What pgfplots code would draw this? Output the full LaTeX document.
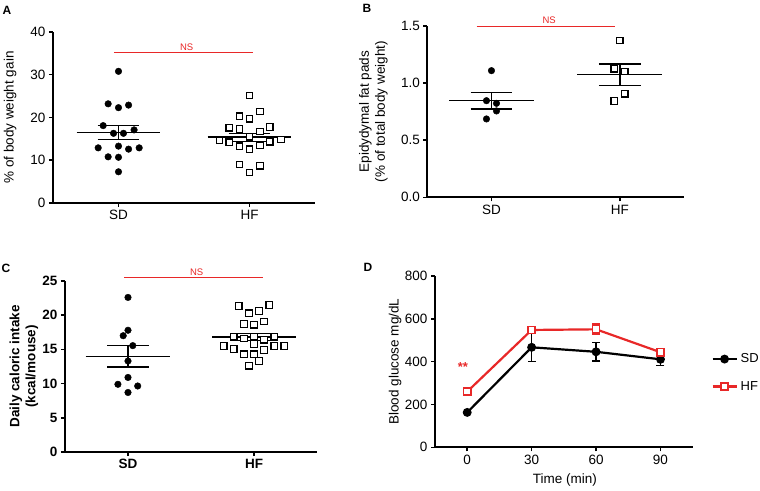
\documentclass[border=0pt]{standalone}
\usepackage{pgfplots}
\pgfplotsset{compat=1.18}
\usepackage{fontspec}
\setmainfont{Liberation Sans}
\definecolor{nsred}{RGB}{232,40,40}
\newcommand{\fs}{\fontsize{13.5}{16}\selectfont}
\begin{document}
\begin{tikzpicture}
\useasboundingbox (0pt,0pt) rectangle (760pt,490pt);
\pgfplotsset{
  base/.style={
    scale only axis, anchor=south west,
    axis lines=left, axis line style={-, line width=1.8pt},
    tick align=outside, major tick length=4pt,
    tick style={line width=1.5pt, black},
    ticklabel style={font=\fs},
    label style={font=\fs},
    /pgf/number format/assume math mode=true,
    clip=false,
  },
  cat/.style={xmin=-0.5, xmax=1.5, xtick={0,1}, xticklabels={SD,HF}},
  dots/.style={only marks, mark=*, mark size=3.3pt, black},
  sqs/.style={only marks, mark=square*, mark size=3.2pt, black, mark options={fill=white, line width=1.2pt}},
  ms/.style={black, line width=1.6pt, no marks},
}

% ---------------- Panel A ----------------
\begin{axis}[base, cat, at={(53pt,287pt)}, width=262pt, height=171pt,
  ymin=0, ymax=40, ytick={0,10,20,30,40},
  ylabel={\% of body weight gain},
  ylabel style={at={(axis description cs:-0.164,0.5)}, anchor=center}]
\addplot[dots] coordinates {(0,30.8) (-0.079,23.2) (0,22.3) (0.077,22.9) (-0.117,18.1) (-0.038,16.3) (0.038,16.3) (0.119,17.1) (-0.155,12.9) (0,13.3) (0.077,12.6) (0.158,12.9) (-0.079,10.8) (0,10.7) (0,7.3)};
\addplot[sqs] coordinates {(1,25.1) (0.923,20.3) (1,19.7) (1.08,21.4) (0.845,17.6) (0.923,17.3) (1.08,16.7) (1.155,17.8) (1,15.5) (0.77,14.7) (0.845,14.2) (0.923,13.3) (1,12.6) (1.08,13.5) (1.155,14.3) (1.24,14.9) (0.923,9.0) (1,7.1) (1.08,8.7)};
\addplot[ms] coordinates {(-0.32,16.45) (0.32,16.45)};
\addplot[ms] coordinates {(-0.16,18.1) (0.16,18.1)};
\addplot[ms] coordinates {(-0.16,14.9) (0.16,14.9)};
\addplot[ms] coordinates {(0,14.9) (0,18.1)};
\addplot[ms] coordinates {(0.68,15.4) (1.32,15.4)};
\addplot[ms] coordinates {(0.84,16.3) (1.16,16.3)};
\addplot[ms] coordinates {(0.84,14.4) (1.16,14.4)};
\addplot[ms] coordinates {(1,14.4) (1,16.3)};
\addplot[nsred, line width=0.9pt, no marks] coordinates {(-0.035,35.2) (1.025,35.2)};
\node[nsred, font=\fontsize{9.5}{11}\selectfont, anchor=south, inner sep=1.5pt] at (axis cs:0.52,35.2) {NS};
\end{axis}

% ---------------- Panel B ----------------
\begin{axis}[base, cat, at={(427.3pt,292.7pt)}, width=256.7pt, height=171.3pt,
  ymin=0, ymax=1.5, ytick={0,0.5,1,1.5},
  yticklabel style={/pgf/number format/.cd, fixed, fixed zerofill, precision=1},
  ylabel={Epidydymal fat pads\\(\% of total body weight)},
  ylabel style={align=center, at={(axis description cs:-0.21,0.5)}, anchor=center}]
\addplot[dots] coordinates {(0,1.109) (-0.039,0.846) (0.039,0.823) (0.039,0.756) (-0.039,0.686)};
\addplot[sqs] coordinates {(1,1.372) (0.956,1.126) (1.039,1.103) (1.039,0.907) (0.956,0.843)};
\addplot[ms] coordinates {(-0.33,0.846) (0.33,0.846)};
\addplot[ms] coordinates {(-0.163,0.916) (0.163,0.916)};
\addplot[ms] coordinates {(-0.163,0.773) (0.163,0.773)};
\addplot[ms] coordinates {(0,0.773) (0,0.916)};
\addplot[ms] coordinates {(0.67,1.074) (1.33,1.074)};
\addplot[ms] coordinates {(0.837,1.167) (1.163,1.167)};
\addplot[ms] coordinates {(0.837,0.978) (1.163,0.978)};
\addplot[ms] coordinates {(1,0.978) (1,1.167)};
\addplot[nsred, line width=0.9pt, no marks] coordinates {(-0.115,1.5) (0.96,1.5)};
\node[nsred, font=\fontsize{9.5}{11}\selectfont, anchor=south, inner sep=2pt] at (axis cs:0.45,1.5) {NS};
\end{axis}

% ---------------- Panel C ----------------
\begin{axis}[base, cat, at={(65pt,38pt)}, width=252pt, height=171pt,
  ymin=0, ymax=25, ytick={0,5,10,15,20,25},
  ticklabel style={font=\fs\bfseries},
  ylabel={Daily caloric intake\\(kcal/mouse)},
  ylabel style={font=\fs\bfseries, align=center, at={(axis description cs:-0.163,0.5)}, anchor=center}]
\addplot[dots] coordinates {(0,22.6) (0,17.8) (-0.038,17.0) (0.038,15.55) (0,13.3) (0,10.9) (-0.08,9.9) (0.077,9.65) (0,8.7)};
\addplot[sqs] coordinates {(0.88,21.35) (0.96,20.3) (1.04,20.6) (1.12,21.5) (0.92,18.7) (1,18.6) (1.08,19.05) (0.84,16.85) (0.92,16.6) (1,16.85) (1.08,16.4) (1.16,16.85) (0.76,15.5) (0.84,15.06) (1,15.8) (1.08,14.9) (1.16,15.5) (1.24,15.5) (0.92,14.3) (1,14.3) (0.96,12.6) (1.04,13.3)};
\addplot[ms] coordinates {(-0.337,13.99) (0.337,13.99)};
\addplot[ms] coordinates {(-0.163,15.55) (0.163,15.55)};
\addplot[ms] coordinates {(-0.163,12.43) (0.163,12.43)};
\addplot[ms] coordinates {(0,12.43) (0,15.55)};
\addplot[ms] coordinates {(0.67,16.8) (1.33,16.8)};
\addplot[ms] coordinates {(0.837,17.35) (1.163,17.35)};
\addplot[ms] coordinates {(0.837,16.3) (1.163,16.3)};
\addplot[ms] coordinates {(1,16.3) (1,17.35)};
\addplot[nsred, line width=0.9pt, no marks] coordinates {(-0.03,25.5) (1.07,25.5)};
\node[nsred, font=\fontsize{9.5}{11}\selectfont, anchor=south, inner sep=2pt] at (axis cs:0.545,25.5) {NS};
\end{axis}

% ---------------- Panel D ----------------
\begin{axis}[base, at={(435pt,42.7pt)}, width=257.7pt, height=171.3pt,
  xmin=-15, xmax=105, xtick={0,30,60,90},
  ymin=0, ymax=800, ytick={0,200,400,600,800},
  xlabel={Time (min)},
  xlabel style={at={(axis description cs:0.504,-0.19)}, anchor=center},
  ylabel={Blood glucose mg/dL},
  ylabel style={at={(axis description cs:-0.155,0.5)}, anchor=center},
  legend style={at={(axis description cs:1.072,0.435)}, anchor=west, draw=none, fill=none,
    font=\fontsize{13}{15}\selectfont, row sep=15pt, inner sep=0pt,
    nodes={inner sep=1pt},
    /tikz/every odd column/.append style={column sep=2pt}},
  legend cell align=left,
  legend image code/.code={\draw[mark repeat=2, mark phase=2, #1] plot coordinates {(0pt,0pt) (12pt,0pt) (24pt,0pt)};}]
\addplot[black, line width=2.2pt, mark=*, mark size=3.3pt,
  error bars/.cd, y dir=both, y explicit,
  error bar style={line width=1.5pt, black},
  error mark options={rotate=90, mark size=4pt, line width=1.5pt, black}]
  coordinates {(0,163) +- (0,5) (30,467) +- (0,67) (60,446) +- (0,44) (90,411) +- (0,28)};
\addlegendentry{SD}
\addplot[nsred, line width=2.2pt, mark=square*, mark size=3.6pt, mark options={fill=white, line width=1.5pt},
  error bars/.cd, y dir=both, y explicit,
  error bar style={line width=1.5pt, nsred},
  error mark options={rotate=90, mark size=4pt, line width=1.5pt, nsred}]
  coordinates {(0,260) +- (0,10) (30,548) +- (0,15) (60,551) +- (0,25) (90,444) +- (0,18)};
\addlegendentry{HF}
\node[nsred, font=\fontsize{13}{14}\selectfont\bfseries, anchor=center] at (axis cs:-2,375) {**};
\end{axis}

% panel letters
\node[font=\fontsize{12}{14}\selectfont\bfseries] at (7pt,480pt) {A};
\node[font=\fontsize{12}{14}\selectfont\bfseries] at (367pt,482pt) {B};
\node[font=\fontsize{12}{14}\selectfont\bfseries] at (6pt,222pt) {C};
\node[font=\fontsize{12}{14}\selectfont\bfseries] at (368pt,223pt) {D};
\end{tikzpicture}
\end{document}
